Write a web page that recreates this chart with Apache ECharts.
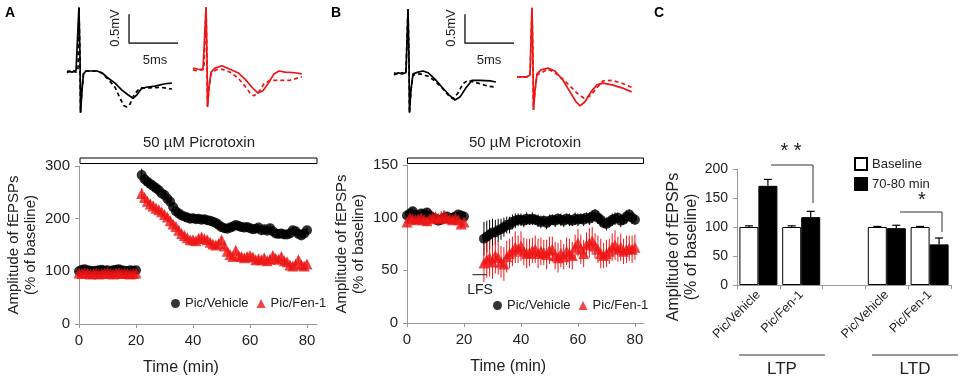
<!DOCTYPE html>
<html>
<head>
<meta charset="utf-8">
<script src="https://cdn.jsdelivr.net/npm/echarts@6/dist/echarts.min.js"></script>
<style>
  html, body { margin: 0; padding: 0; background: #fff; }
  #chart { width: 964px; height: 384px; }
</style>
</head>
<body>
<div id="chart"></div>
<script>
// ---- field potential traces, [ms, mV] relative to baseline ----
var traceA_veh_solid = [[0,0],[0.51,-0.02],[0.92,0],[1.12,0.02],[1.22,1.10],[1.33,0.19],[1.38,-0.72],[1.53,-0.33],[1.68,-0.05],[1.94,0],[2.35,0],[3.06,0],[3.57,-0.03],[4.18,-0.12],[4.9,-0.21],[5.6,-0.33],[6.22,-0.41],[6.73,-0.47],[7.14,-0.41],[7.55,-0.31],[8.06,-0.28],[8.98,-0.26],[10.0,-0.22],[10.7,-0.21]];
var traceA_veh_dash = [[0,-0.03],[0.51,0.02],[0.92,-0.02],[1.12,0.02],[1.22,1.10],[1.33,0.19],[1.38,-0.72],[1.53,-0.33],[1.68,-0.05],[1.94,0],[2.35,0],[3.06,0],[3.57,-0.04],[4.18,-0.14],[4.9,-0.28],[5.41,-0.47],[5.82,-0.6],[6.12,-0.62],[6.43,-0.57],[6.84,-0.41],[7.24,-0.33],[7.65,-0.29],[8.47,-0.29],[9.5,-0.28],[10.7,-0.31]];
var traceA_fen_solid = [[0,0.05],[0.51,0.03],[1.02,0.02],[1.22,0.03],[1.33,1.10],[1.43,0.19],[1.48,-0.62],[1.63,-0.29],[1.84,-0.02],[2.24,0.05],[2.96,0.09],[3.78,0.03],[4.59,-0.03],[5.31,-0.14],[6.02,-0.28],[6.63,-0.38],[7.14,-0.34],[7.65,-0.22],[8.27,-0.05],[8.78,0],[9.39,-0.02],[10.4,-0.03],[11.1,-0.05]];
var traceA_fen_dash = [[0,0.02],[0.51,0],[1.12,0.05],[1.33,1.10],[1.43,0.19],[1.48,-0.62],[1.63,-0.29],[1.84,-0.05],[2.35,0.02],[2.96,0.03],[3.78,-0.02],[4.59,-0.12],[5.31,-0.26],[5.82,-0.38],[6.22,-0.43],[6.73,-0.36],[7.24,-0.22],[7.86,-0.16],[8.88,-0.16],[9.9,-0.16],[11.1,-0.1]];
var traceB_veh_solid = [[0,-0.07],[0.41,-0.03],[0.82,-0.05],[1.22,-0.03],[1.43,1.07],[1.53,0.19],[1.58,-0.72],[1.73,-0.33],[1.94,-0.05],[2.45,-0.02],[2.96,0],[3.47,-0.03],[4.18,-0.14],[4.9,-0.28],[5.61,-0.41],[6.22,-0.5],[6.73,-0.45],[7.35,-0.29],[7.96,-0.16],[8.78,-0.16],[9.8,-0.17],[10.4,-0.19]];
var traceB_veh_dash = [[0,-0.03],[0.41,-0.06],[0.82,-0.03],[1.22,-0.04],[1.43,1.07],[1.53,0.19],[1.58,-0.72],[1.73,-0.33],[1.94,-0.07],[2.65,-0.05],[3.47,-0.09],[4.18,-0.17],[4.9,-0.29],[5.61,-0.43],[6.02,-0.48],[6.53,-0.38],[7.04,-0.22],[7.55,-0.16],[8.57,-0.21],[9.59,-0.26],[10.4,-0.28]];
var traceB_fen_solid = [[0,-0.1],[0.51,-0.1],[1.02,-0.1],[1.33,-0.07],[1.53,1.09],[1.63,0.19],[1.68,-0.67],[1.84,-0.33],[2.04,-0.05],[2.45,0.02],[3.16,0.05],[3.88,0],[4.69,-0.16],[5.41,-0.36],[6.02,-0.53],[6.43,-0.6],[6.94,-0.53],[7.55,-0.36],[8.16,-0.24],[8.78,-0.21],[9.69,-0.24],[10.7,-0.29],[11.7,-0.36]];
var traceB_fen_dash = [[0,-0.1],[0.51,-0.1],[1.02,-0.1],[1.33,-0.07],[1.53,1.09],[1.63,0.19],[1.68,-0.67],[1.84,-0.33],[2.04,-0.07],[3.16,0.03],[3.88,-0.03],[4.69,-0.14],[5.41,-0.26],[6.12,-0.38],[6.84,-0.47],[7.45,-0.43],[8.16,-0.29],[8.78,-0.17],[9.69,-0.16],[10.7,-0.21],[11.7,-0.28]];
// scale bar: 5 ms x 0.5 mV
var scaleBarA = [[6.33,0.98],[6.33,0.48],[11.33,0.48]];
var scaleBarB = [[7.24,0.98],[7.24,0.48],[12.24,0.48]];

// ---- time courses ----
var baseTime = [0,1,2,3,4,5,6,7,8,9,10,11,12,13,14,15,16,17,18,19,20];
var postTimeA = [22,23,24,25,26,27,28,29,30,31,32,33,34,35,36,37,38,39,40,41,42,43,44,45,46,47,48,49,50,51,52,53,54,55,56,57,58,59,60,61,62,63,64,65,66,67,68,69,70,71,72,73,74,75,76,77,78,79,80];
var postTimeB = [27,28,29,30,31,32,33,34,35,36,37,38,39,40,41,42,43,44,45,46,47,48,49,50,51,52,53,54,55,56,57,58,59,60,61,62,63,64,65,66,67,68,69,70,71,72,73,74,75,76,77,78,79,80];

var aVehBase = [100,103,104,102,101,100,101,102,103,101,102,100,102,103,104,102,101,100,102,101,102];
var aVehBaseErr = [3,4,3,3,4,3,3,4,3,3,4,3,3,3,4,3,3,4,3,3,4];
var aFenBase = [97,96,98,97,95,96,97,95,96,97,98,96,95,97,98,96,97,96,95,96,97];
var aFenBaseErr = [4,3,4,3,4,4,3,4,3,4,3,4,3,4,3,4,4,3,4,3,4];
var aVehPost = [283,275,270,266,262,258,254,248,245,238,232,222,214,210,206,204,202,200,201,199,200,198,199,197,196,194,192,188,184,182,181,183,185,188,186,184,183,184,182,180,181,183,178,180,177,182,176,172,171,172,170,170,172,178,176,171,168,172,178];
var aVehPostErr = [12,11,11,10,10,9,10,9,9,8,9,8,8,9,8,8,7,8,8,7,8,8,7,8,8,7,8,8,7,8,7,8,8,7,8,8,7,8,7,8,8,7,8,7,8,8,7,8,7,8,8,7,8,7,8,8,7,8,7];
var aFenPost = [248,240,233,228,224,220,217,213,208,203,196,190,185,178,172,168,164,160,160,158,163,165,162,160,155,152,150,153,160,148,138,132,128,140,130,128,126,128,130,127,122,124,122,126,120,123,130,125,123,128,120,118,112,110,114,122,112,110,114];
var aFenPostErr = [10,9,9,8,9,8,8,7,8,7,8,7,7,8,7,7,6,7,7,6,7,7,6,7,7,6,7,7,6,7,6,7,7,6,7,7,6,7,6,7,7,6,7,6,7,7,6,7,6,7,7,6,7,6,7,7,6,7,6];

var bVehBase = [102,104,106,103,101,104,103,105,102,100,99,97,98,100,101,99,100,101,103,102,101];
var bVehBaseErr = [4,3,4,4,3,4,3,4,4,3,4,3,4,3,4,4,3,4,3,4,3];
var bFenBase = [96,100,99,98,99,100,98,97,99,100,101,99,100,102,100,99,98,100,98,94,96];
var bFenBaseErr = [5,4,5,4,5,4,5,5,4,5,4,5,6,5,4,5,4,5,4,5,4];
var bVehPost = [80,82,84,86,86,88,89,91,93,93,96,97,98,98,97,99,98,99,98,97,96,97,95,97,98,97,99,98,97,99,98,97,99,98,99,98,100,99,101,103,100,98,95,94,96,98,99,100,97,98,101,103,100,98];
var bVehPostErr = [16,15,14,13,12,11,10,9,8,8,7,7,6,6,6,6,5,6,5,6,6,5,6,6,5,6,5,6,6,5,6,5,6,6,5,6,5,6,6,5,6,6,5,6,5,6,6,5,6,5,6,5,6,5];
var bFenPost = [57,60,62,58,64,62,58,56,63,66,68,72,70,73,68,66,67,69,70,66,68,67,65,69,70,64,62,66,63,68,66,64,72,76,70,66,74,76,78,73,70,66,64,66,68,72,74,70,72,68,70,71,70,72];
var bFenPostErr = [18,17,18,16,17,16,15,16,15,14,14,15,13,14,13,14,13,12,13,14,13,12,14,13,12,13,14,13,12,13,14,13,12,13,14,13,12,14,13,12,13,14,12,13,12,13,14,12,13,12,13,12,13,12];

var lfsPeriod = [[23,46],[28,46]];

// ---- summary bars (panel C) ----
var barCats = ['Pic/Vehicle','Pic/Fen-1','','Pic/Vehicle','Pic/Fen-1'];
var barBaseline = [100,100,'-',100,100];
var barBaselineErr = [2,2,'-',1,1];
var barLate = [171,117,'-',98,70];
var barLateErr = [11,10,'-',5,11];

var timeTicks = [0,20,40,60,80];

var FONT = 'Liberation Sans, Arial, sans-serif';
var RED = '#ee1515';
var AXIS = '#9a9a9a';
var TXT = '#222';

function pairs(t, v) { return t.map(function (x, i) { return [x, v[i]]; }); }
function errData(t, v, e) { return t.map(function (x, i) { return [x, v[i] - e[i], v[i] + e[i]]; }); }

function errSeries(name, xi, data, color) {
  return {
    type: 'custom', name: name, xAxisIndex: xi, yAxisIndex: xi, data: data, silent: true, z: 2,
    renderItem: function (params, api) {
      var p1 = api.coord([api.value(0), api.value(1)]);
      var p2 = api.coord([api.value(0), api.value(2)]);
      return { type: 'line', shape: { x1: p1[0], y1: p1[1], x2: p2[0], y2: p2[1] },
               style: { stroke: color, lineWidth: 1 } };
    }
  };
}

function traceSeries(idx, data, color, dashed) {
  return {
    type: 'line', xAxisIndex: idx, yAxisIndex: idx, data: data, symbol: 'none', silent: true,
    clip: false, lineStyle: { color: color, width: 1.7, type: dashed ? [4, 3] : 'solid' }
  };
}

var BAR_W = 19;
function barErrSeries(name, vals, errs, dx, color) {
  return {
    type: 'custom', name: name, xAxisIndex: 6, yAxisIndex: 6, silent: true, z: 3,
    data: vals.map(function (v, i) { return v === '-' ? [i, '-', '-'] : [i, v, v + errs[i]]; }),
    renderItem: function (params, api) {
      if (isNaN(api.value(1))) return;
      var p1 = api.coord([api.value(0), api.value(1)]);
      var p2 = api.coord([api.value(0), api.value(2)]);
      var x = p1[0] + dx;
      return { type: 'group', children: [
        { type: 'line', shape: { x1: x, y1: p1[1], x2: x, y2: p2[1] }, style: { stroke: color, lineWidth: 1.2 } },
        { type: 'line', shape: { x1: x - 4, y1: p2[1], x2: x + 4, y2: p2[1] }, style: { stroke: color, lineWidth: 1.2 } }
      ] };
    }
  };
}

var traceGridLeft = [67, 193, 394, 517];
var grids = traceGridLeft.map(function (l) {
  return { left: l, top: 1.4, width: 117.6, height: 116, show: false, outerBoundsMode: 'none' };
});
grids.push({ left: 79, top: 166, width: 238, height: 158, outerBoundsMode: 'none' });
grids.push({ left: 407, top: 165, width: 236.5, height: 158, outerBoundsMode: 'none' });
grids.push({ left: 737, top: 169, width: 214, height: 116, outerBoundsMode: 'none' });

var xAxes = [], yAxes = [];
for (var i = 0; i < 4; i++) {
  xAxes.push({ gridIndex: i, type: 'value', min: 0, max: 12, show: false });
  yAxes.push({ gridIndex: i, type: 'value', min: -0.8, max: 1.2, show: false });
}
var axLine = { show: true, lineStyle: { color: AXIS, width: 1 } };
var axTick = { show: true, length: 4, lineStyle: { color: AXIS } };
function timeAxis(g, max) {
  return {
    gridIndex: g, type: 'value', min: 0, max: max, interval: 20,
    name: 'Time (min)', nameLocation: 'middle', nameGap: 36,
    nameTextStyle: { fontSize: 16, color: TXT, fontFamily: FONT, padding: [0, 34, 0, 0] },
    axisLine: axLine, axisTick: { show: true, length: 4, lineStyle: { color: AXIS }, customValues: timeTicks },
    axisLabel: { fontSize: 15, color: TXT, fontFamily: FONT, margin: 9, customValues: timeTicks },
    splitLine: { show: false }
  };
}
function ampAxis(g, max, interval, fs, gap) {
  return {
    gridIndex: g, type: 'value', min: 0, max: max, interval: interval,
    name: 'Amplitude of fEPSPs\n(% of baseline)', nameLocation: 'middle', nameRotate: 90, nameGap: gap,
    nameTextStyle: { fontSize: fs, lineHeight: fs + 2, color: TXT, fontFamily: FONT },
    axisLine: axLine, axisTick: axTick,
    axisLabel: { fontSize: 15, color: TXT, fontFamily: FONT, margin: 9 },
    splitLine: { show: false }
  };
}
xAxes.push(timeAxis(4, 83.5));
yAxes.push(ampAxis(4, 300, 100, 15, 40));
xAxes.push(timeAxis(5, 83));
yAxes.push(ampAxis(5, 150, 50, 15, 40));
xAxes.push({
  gridIndex: 6, type: 'category', data: barCats,
  axisLine: axLine, axisTick: { show: true, length: 4, lineStyle: { color: AXIS } },
  axisLabel: { interval: 0, rotate: 45, fontSize: 12.5, color: TXT, fontFamily: FONT, margin: 8 }
});
var cY = ampAxis(6, 200, 50, 16, 31);
cY.axisLabel.fontSize = 14;
cY.nameTextStyle.padding = [0, 40, 0, 0];
yAxes.push(cY);

var series = [
  traceSeries(0, traceA_veh_solid, '#000', false),
  traceSeries(0, traceA_veh_dash, '#000', true),
  traceSeries(0, scaleBarA, '#444', false),
  traceSeries(1, traceA_fen_solid, RED, false),
  traceSeries(1, traceA_fen_dash, RED, true),
  traceSeries(2, traceB_veh_solid, '#000', false),
  traceSeries(2, traceB_veh_dash, '#000', true),
  traceSeries(2, scaleBarB, '#444', false),
  traceSeries(3, traceB_fen_solid, RED, false),
  traceSeries(3, traceB_fen_dash, RED, true),

  errSeries('eAv', 4, errData(baseTime, aVehBase, aVehBaseErr).concat(errData(postTimeA, aVehPost, aVehPostErr)), '#000'),
  { type: 'scatter', name: 'Pic/Vehicle', xAxisIndex: 4, yAxisIndex: 4, symbol: 'circle', symbolSize: 10, z: 3,
    itemStyle: { color: '#000' }, data: pairs(baseTime, aVehBase).concat(pairs(postTimeA, aVehPost)) },
  errSeries('eAf', 4, errData(baseTime, aFenBase, aFenBaseErr).concat(errData(postTimeA, aFenPost, aFenPostErr)), RED),
  { type: 'scatter', name: 'Pic/Fen-1', xAxisIndex: 4, yAxisIndex: 4, symbol: 'triangle', symbolSize: 11, z: 4,
    itemStyle: { color: RED }, data: pairs(baseTime, aFenBase).concat(pairs(postTimeA, aFenPost)) },

  errSeries('eBv', 5, errData(baseTime, bVehBase, bVehBaseErr).concat(errData(postTimeB, bVehPost, bVehPostErr)), '#000'),
  { type: 'scatter', name: 'Pic/Vehicle', xAxisIndex: 5, yAxisIndex: 5, symbol: 'circle', symbolSize: 10, z: 3,
    itemStyle: { color: '#000' }, data: pairs(baseTime, bVehBase).concat(pairs(postTimeB, bVehPost)) },
  errSeries('eBf', 5, errData(baseTime, bFenBase, bFenBaseErr).concat(errData(postTimeB, bFenPost, bFenPostErr)), RED),
  { type: 'scatter', name: 'Pic/Fen-1', xAxisIndex: 5, yAxisIndex: 5, symbol: 'triangle', symbolSize: 11, z: 4,
    itemStyle: { color: RED }, data: pairs(baseTime, bFenBase).concat(pairs(postTimeB, bFenPost)) },
  { type: 'line', xAxisIndex: 5, yAxisIndex: 5, data: lfsPeriod, symbol: 'none', silent: true,
    lineStyle: { color: '#444', width: 1.2 } },

  { type: 'bar', name: 'Baseline', xAxisIndex: 6, yAxisIndex: 6, data: barBaseline, barWidth: BAR_W, barGap: '0%',
    itemStyle: { color: '#fff', borderColor: '#000', borderWidth: 1 } },
  { type: 'bar', name: '70-80 min', xAxisIndex: 6, yAxisIndex: 6, data: barLate, barWidth: BAR_W, barGap: '0%',
    itemStyle: { color: '#000', borderColor: '#000', borderWidth: 1 } },
  barErrSeries('eb0', barBaseline, barBaselineErr, -BAR_W / 2, '#000'),
  barErrSeries('eb1', barLate, barLateErr, BAR_W / 2, '#000')
];

var legendText = { fontSize: 13, color: TXT, fontFamily: FONT };
var ptsLegend = [{ name: 'Pic/Vehicle', icon: 'circle' }, { name: 'Pic/Fen-1', icon: 'triangle' }];

function txt(x, y, s, size, extra) {
  var st = { text: s, fontSize: size, fontFamily: FONT, fill: TXT, align: 'center', verticalAlign: 'middle' };
  for (var k in extra) st[k] = extra[k];
  return { type: 'text', x: x, y: y, style: st, silent: true };
}
function pline(pts) {
  return { type: 'polyline', shape: { points: pts }, style: { stroke: '#333', lineWidth: 1, fill: null }, silent: true };
}

var graphics = [
  txt(10, 13, 'A', 14, { fontWeight: 'bold', fill: '#000' }),
  txt(336, 13, 'B', 14, { fontWeight: 'bold', fill: '#000' }),
  txt(659, 13, 'C', 14, { fontWeight: 'bold', fill: '#000' }),
  { type: 'text', x: 115, y: 28, rotation: Math.PI / 2, silent: true,
    style: { text: '0.5mV', fontSize: 13, fontFamily: FONT, fill: TXT, align: 'center', verticalAlign: 'middle' } },
  txt(155, 60, '5ms', 13),
  { type: 'text', x: 451, y: 28, rotation: Math.PI / 2, silent: true,
    style: { text: '0.5mV', fontSize: 13, fontFamily: FONT, fill: TXT, align: 'center', verticalAlign: 'middle' } },
  txt(489, 60, '5ms', 13),
  { type: 'rect', shape: { x: 80, y: 158, width: 237, height: 5.5 }, style: { fill: '#fff', stroke: '#000', lineWidth: 1 }, silent: true },
  txt(199, 143, '50 \u00b5M Picrotoxin', 15),
  { type: 'rect', shape: { x: 407.5, y: 158, width: 236, height: 5.5 }, style: { fill: '#fff', stroke: '#000', lineWidth: 1 }, silent: true },
  txt(525, 143, '50 \u00b5M Picrotoxin', 15),
  txt(480, 290, 'LFS', 14),
  pline([[771, 165], [813, 165], [813, 203]]),
  pline([[900, 212], [942, 212], [942, 232]]),
  txt(791, 151, '* *', 20),
  txt(922, 200, '*', 20),
  pline([[739, 355], [825, 355]]),
  pline([[872, 355], [958, 355]]),
  txt(782, 369, 'LTP', 17),
  txt(915, 369, 'LTD', 17)
];

var myChart = echarts.init(document.getElementById('chart'), null, { renderer: 'canvas' });
myChart.setOption({
  animation: false,
  backgroundColor: '#fff',
  textStyle: { fontFamily: FONT },
  grid: grids,
  xAxis: xAxes,
  yAxis: yAxes,
  legend: [
    { left: 171, top: 297, padding: 0, itemWidth: 9, itemHeight: 9, itemGap: 8, selectedMode: false,
      data: ptsLegend, textStyle: legendText },
    { left: 493, top: 299, padding: 0, itemWidth: 9, itemHeight: 9, itemGap: 8, selectedMode: false,
      data: ptsLegend, textStyle: legendText },
    { left: 854, top: 157, padding: 0, orient: 'vertical', itemWidth: 12, itemHeight: 12, itemGap: 6,
      selectedMode: false, icon: 'rect', data: ['Baseline', '70-80 min'], textStyle: legendText }
  ],
  graphic: graphics,
  series: series
});
</script>
</body>
</html>
